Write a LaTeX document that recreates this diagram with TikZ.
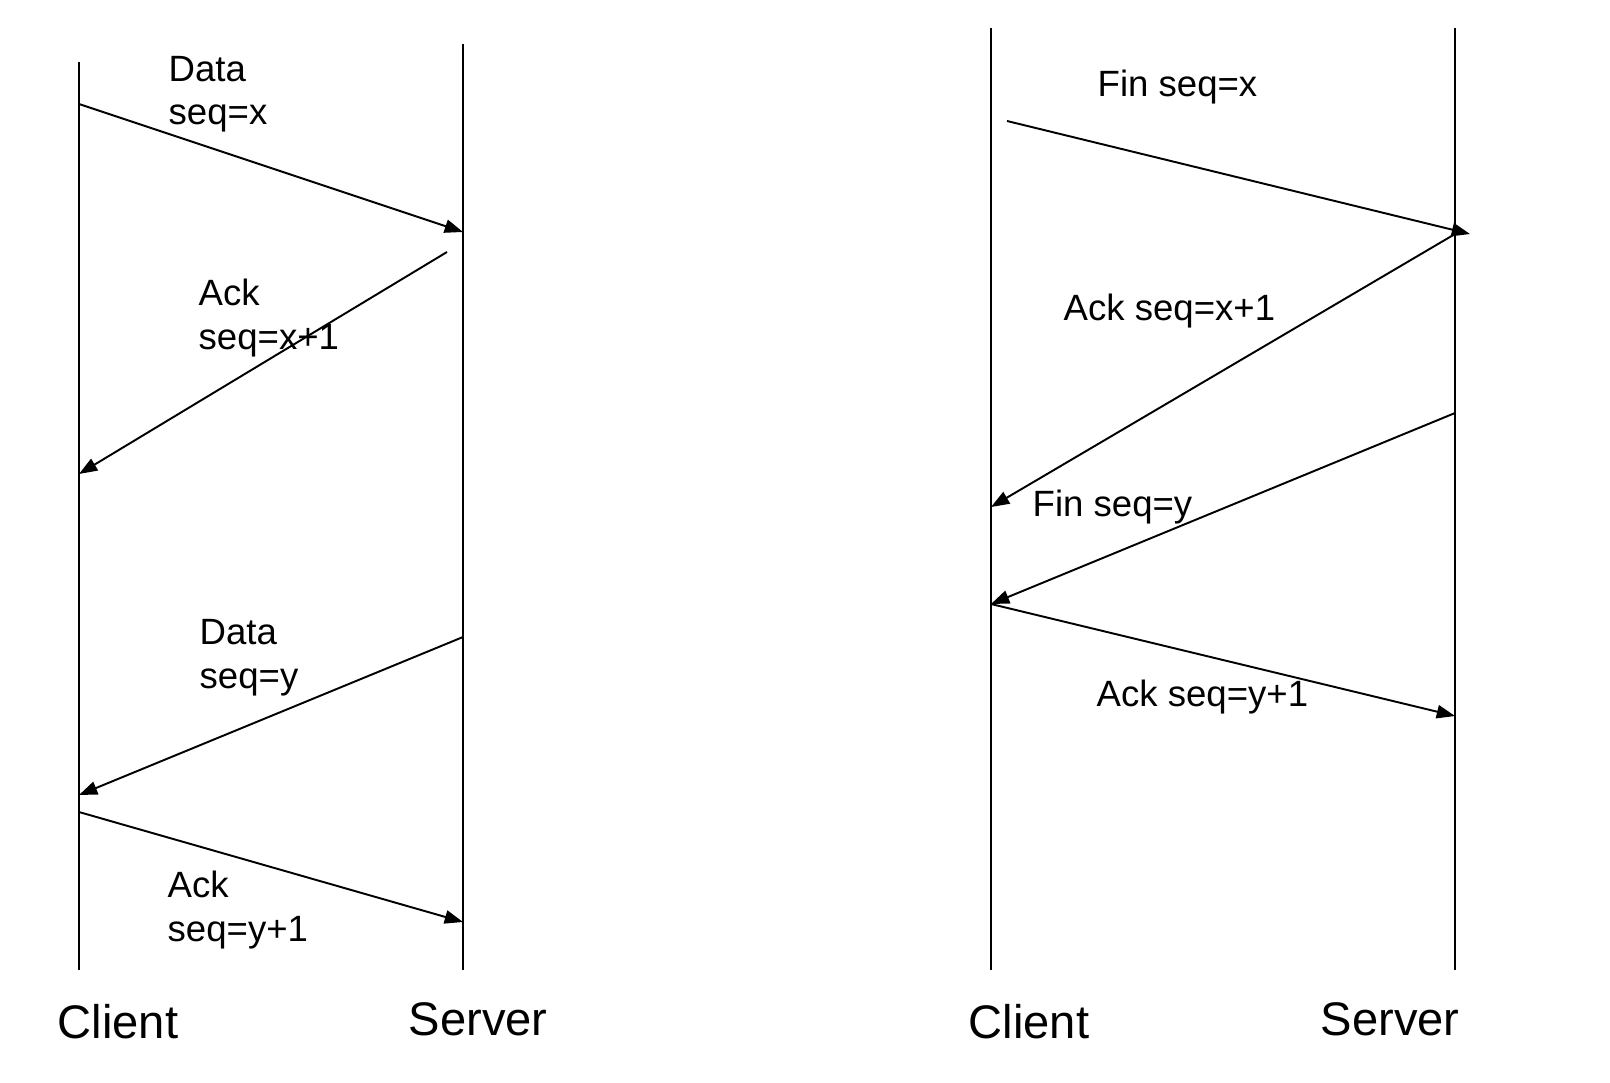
\documentclass[tikz,border=0pt]{standalone}
\usepackage{fontspec}
\setmainfont{Liberation Sans}
\usetikzlibrary{arrows.meta}
\tikzset{
    lifeline/.style={line width=0.6pt, black},
    msgarrow/.style={-{Triangle[length=5.2pt, width=3.8pt]}, line width=0.55pt, black},
    msglabel/.style={anchor=base west, inner sep=0pt, align=left, font=\fontsize{10.4}{12.5}\selectfont},
    hostlabel/.style={anchor=base west, inner sep=0pt, font=\fontsize{13.4}{16}\selectfont},
}
\begin{document}
\begin{tikzpicture}[x=0.01cm, y=-0.01cm]
            \useasboundingbox (0,0) rectangle (1610,1082);
            % Data transfer side
            \coordinate (cli1top) at (79,62);
            \coordinate (cli1bot) at (79,970);
            \coordinate (srv1top) at (463,44);
            \coordinate (srv1bot) at (463,970);
            \draw[lifeline] (cli1top) -- (cli1bot);
            \draw[lifeline] (srv1top) -- (srv1bot);
            \coordinate (datax1) at (79,104);
            \coordinate (datax2) at (463,232);
            \coordinate (ackx1) at (447,252);
            \coordinate (ackx2) at (79,474);
            \coordinate (datay1) at (463,637);
            \coordinate (datay2) at (79,795);
            \coordinate (acky1) at (79,812);
            \coordinate (acky2) at (463,922);
            \draw[msgarrow] (datax1) -- (datax2);
            \draw[msgarrow] (ackx1) -- (ackx2);
            \draw[msgarrow] (datay1) -- (datay2);
            \draw[msgarrow] (acky1) -- (acky2);
            % base of the last line
            \node[msglabel] (lbldatax) at (168,125) {Data\\seq=x};
            \node[msglabel] (lblackx) at (198,349) {Ack\\seq=x+1};
            \node[msglabel] (lbldatay) at (199,688) {Data\\seq=y};
            \node[msglabel] (lblacky) at (167,941) {Ack\\seq=y+1};
            \node[hostlabel] (client1) at (57,1038) {Client};
            \node[hostlabel] (server1) at (408,1035) {Server};

            % Connection close side
            \coordinate (cli2top) at (991,28);
            \coordinate (cli2bot) at (991,970);
            \coordinate (srv2top) at (1455,28);
            \coordinate (srv2bot) at (1455,970);
            \draw[lifeline] (cli2top) -- (cli2bot);
            \draw[lifeline] (srv2top) -- (srv2bot);
            \coordinate (finx1) at (1007,121);
            \coordinate (finx2) at (1470,234);
            \coordinate (finack1) at (1455,234);
            \coordinate (finack2) at (991,507);
            \coordinate (finy1) at (1455,413);
            \coordinate (finy2) at (991,604);
            \coordinate (lastack1) at (991,604);
            \coordinate (lastack2) at (1455,716);
            \draw[msgarrow] (finx1) -- (finx2);
            \draw[msgarrow] (finack1) -- (finack2);
            \draw[msgarrow] (finy1) -- (finy2);
            \draw[msgarrow] (lastack1) -- (lastack2);
            \node[msglabel] (lblfinx) at (1097,97) {Fin seq=x};
            \node[msglabel] (lblfinack) at (1063,320) {Ack seq=x+1};
            \node[msglabel] (lblfiny) at (1032,516) {Fin seq=y};
            \node[msglabel] (lbllastack) at (1096,706) {Ack seq=y+1};
            \node[hostlabel] (client2) at (968,1038) {Client};
            \node[hostlabel] (server2) at (1320,1035) {Server};
        \end{tikzpicture}
\end{document}
